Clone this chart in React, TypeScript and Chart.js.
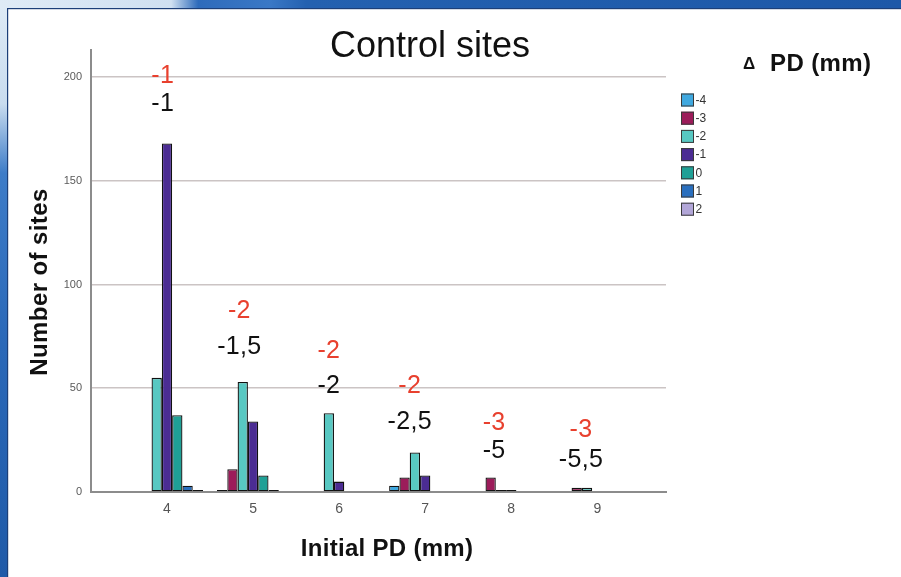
import React, { useEffect, useRef } from "react";
import { Chart, registerables } from "chart.js";

Chart.register(...registerables);

// ---- data ----
const initialPD = [4, 5, 6, 7, 8, 9];
const changeLabels = ["-4", "-3", "-2", "-1", "0", "1", "2"];
const sitesMinus4 = [null, 1, null, 3, null, null];
const sitesMinus3 = [null, 11, null, 7, 7, 2];
const sitesMinus2 = [55, 53, 38, 19, 1, 2];
const sitesMinus1 = [168, 34, 5, 8, 1, null];
const sitesZero = [37, 8, null, null, null, null];
const sitesPlus1 = [3, 1, null, null, null, null];
const sitesPlus2 = [1, null, null, null, null, null];
const seriesValues = [sitesMinus4, sitesMinus3, sitesMinus2, sitesMinus1, sitesZero, sitesPlus1, sitesPlus2];

// annotation texts per initial PD group (red = upper value, black = lower value)
const redGroupLabels = ["-1", "-2", "-2", "-2", "-3", "-3"];
const blackGroupLabels = ["-1", "-1,5", "-2", "-2,5", "-5", "-5,5"];
// annotation anchors in data units (x = initial PD, y = number of sites)
const labelAnchorX = [3.95, 4.84, 5.88, 6.82, 7.8, 8.81];
const redLabelAnchorY = [200.5, 87, 68, 51, 33, 30];
const blackLabelAnchorY = [187, 70, 51, 33.5, 19.5, 15.3];

// ---- styles ----
const seriesColors = ["#3fa8df", "#9c1c5a", "#58c8c2", "#4b2c93", "#1fa096", "#2a6fbe", "#b2a6d8"];
const SANS = '"Liberation Sans", Arial, Helvetica, sans-serif';

const decorPlugin = {
  id: "decor",
  beforeDraw(chart: any) {
    const { ctx, width, height } = chart;
    ctx.save();
    ctx.fillStyle = "#dce9f5";
    ctx.fillRect(0, 0, width, height);
    const top = ctx.createLinearGradient(0, 0, width, 0);
    top.addColorStop(0, "#dfebf6");
    top.addColorStop(0.19, "#cfe0f1");
    top.addColorStop(0.22, "#2e6bbb");
    top.addColorStop(0.3, "#3a78c6");
    top.addColorStop(0.34, "#2461b0");
    top.addColorStop(1, "#1d58a8");
    ctx.fillStyle = top;
    ctx.fillRect(0, 0, width, 9);
    const left = ctx.createLinearGradient(0, 0, 0, height);
    left.addColorStop(0, "#dfebf6");
    left.addColorStop(0.18, "#c9dcef");
    left.addColorStop(0.3, "#3d7cc8");
    left.addColorStop(0.6, "#2a68b8");
    left.addColorStop(1, "#1f5aa8");
    ctx.fillStyle = left;
    ctx.fillRect(0, 9, 7, height - 9);
    ctx.fillStyle = "#ffffff";
    ctx.fillRect(7, 9, width - 7, height - 9);
    ctx.fillStyle = "#1c3f78";
    ctx.fillRect(7, 8, width - 7, 1.2);
    ctx.fillRect(7, 8, 1.2, height - 8);
    ctx.restore();
  },
  afterDraw(chart: any) {
    const { ctx } = chart;
    const xs = chart.scales.x;
    const ys = chart.scales.y;
    ctx.save();
    ctx.textAlign = "center";
    ctx.textBaseline = "alphabetic";
    (ctx as any).letterSpacing = "0px";

    // chart title
    ctx.fillStyle = "#111";
    ctx.font = `36px ${SANS}`;
    ctx.fillText("Control sites", 430, 57);

    // legend header
    ctx.font = `bold 24px ${SANS}`;
    (ctx as any).letterSpacing = "0.4px";
    ctx.textAlign = "left";
    ctx.fillText("PD (mm)", 770, 71);
    (ctx as any).letterSpacing = "0px";
    ctx.font = `bold 17px ${SANS}`;
    ctx.fillText("\u0394", 743, 69);

    // axis titles
    ctx.textAlign = "center";
    ctx.font = `bold 24px ${SANS}`;
    (ctx as any).letterSpacing = "0.3px";
    ctx.fillText("Initial PD (mm)", 387, 556);
    ctx.save();
    ctx.translate(47, 282);
    ctx.rotate(-Math.PI / 2);
    ctx.font = `bold 24px ${SANS}`;
    (ctx as any).letterSpacing = "0.4px";
    ctx.fillText("Number of sites", 0, 0);
    ctx.restore();

    // legend
    (ctx as any).letterSpacing = "0px";
    ctx.textAlign = "left";
    ctx.textBaseline = "middle";
    ctx.font = `12px ${SANS}`;
    chart.data.datasets.forEach((ds: any, i: number) => {
      const y = 93.5 + i * 18.2;
      ctx.fillStyle = ds.backgroundColor;
      ctx.fillRect(681, y, 13, 13);
      ctx.strokeStyle = "#3a3a3a";
      ctx.lineWidth = 1;
      ctx.strokeRect(681.5, y + 0.5, 12, 12);
      ctx.fillStyle = "#333";
      ctx.fillText(ds.label, 695.5, y + 7);
    });

    // group annotations
    ctx.textAlign = "center";
    ctx.font = `25px ${SANS}`;
    (ctx as any).letterSpacing = "0.3px";
    initialPD.forEach((_, i) => {
      const x = xs.getPixelForValue(labelAnchorX[i]);
      ctx.fillStyle = "#e8402e";
      ctx.fillText(redGroupLabels[i], x, ys.getPixelForValue(redLabelAnchorY[i]));
      ctx.fillStyle = "#111";
      ctx.fillText(blackGroupLabels[i], x, ys.getPixelForValue(blackLabelAnchorY[i]));
    });
    ctx.restore();
  },
};

export default function App() {
  const canvasRef = useRef<HTMLCanvasElement | null>(null);

  useEffect(() => {
    if (!canvasRef.current) return;
    const chart = new Chart(canvasRef.current, {
      type: "bar",
      data: {
        datasets: changeLabels.map((label, s) => ({
          label,
          data: initialPD.map((x, i) => ({ x, y: seriesValues[s][i] })),
          backgroundColor: seriesColors[s],
          borderColor: "#111111",
          borderWidth: 1.3,
          borderSkipped: false,
          categoryPercentage: 0.838,
          barPercentage: 1,
        })),
      },
      options: {
        responsive: false,
        animation: false,
        devicePixelRatio: 1,
        layout: { padding: { top: 50, right: 235, left: 0, bottom: 0 } },
        plugins: {
          legend: { display: false },
          title: { display: false },
          tooltip: { enabled: false },
        },
        scales: {
          x: {
            type: "linear",
            min: 3.117,
            max: 9.798,
            offset: false,
            grid: { display: false, drawTicks: false },
            border: { display: true, color: "#8c8c8c", width: 2 },
            ticks: {
              color: "#555",
              font: { family: SANS, size: 14 },
              padding: 9,
            },
            afterBuildTicks: (scale: any) => {
              scale.ticks = initialPD.map((v) => ({ value: v }));
            },
            afterFit: (scale: any) => {
              scale.height = 85;
            },
          },
          y: {
            type: "linear",
            min: 0,
            max: 213,
            ticks: {
              stepSize: 50,
              includeBounds: false,
              color: "#5a5a5a",
              font: { family: SANS, size: 11 },
              padding: 9,
            },
            grid: { color: "#cbc4c4", lineWidth: 1.5, drawTicks: false },
            border: { display: true, color: "#8c8c8c", width: 2 },
            afterFit: (scale: any) => {
              scale.width = 91;
            },
          },
        },
      } as any,
      plugins: [decorPlugin],
    });
    return () => chart.destroy();
  }, []);

  return (
    <div style={{ position: "fixed", left: 0, top: 0, width: 901, height: 577 }}>
      <canvas ref={canvasRef} width={901} height={577} style={{ display: "block" }} />
    </div>
  );
}
